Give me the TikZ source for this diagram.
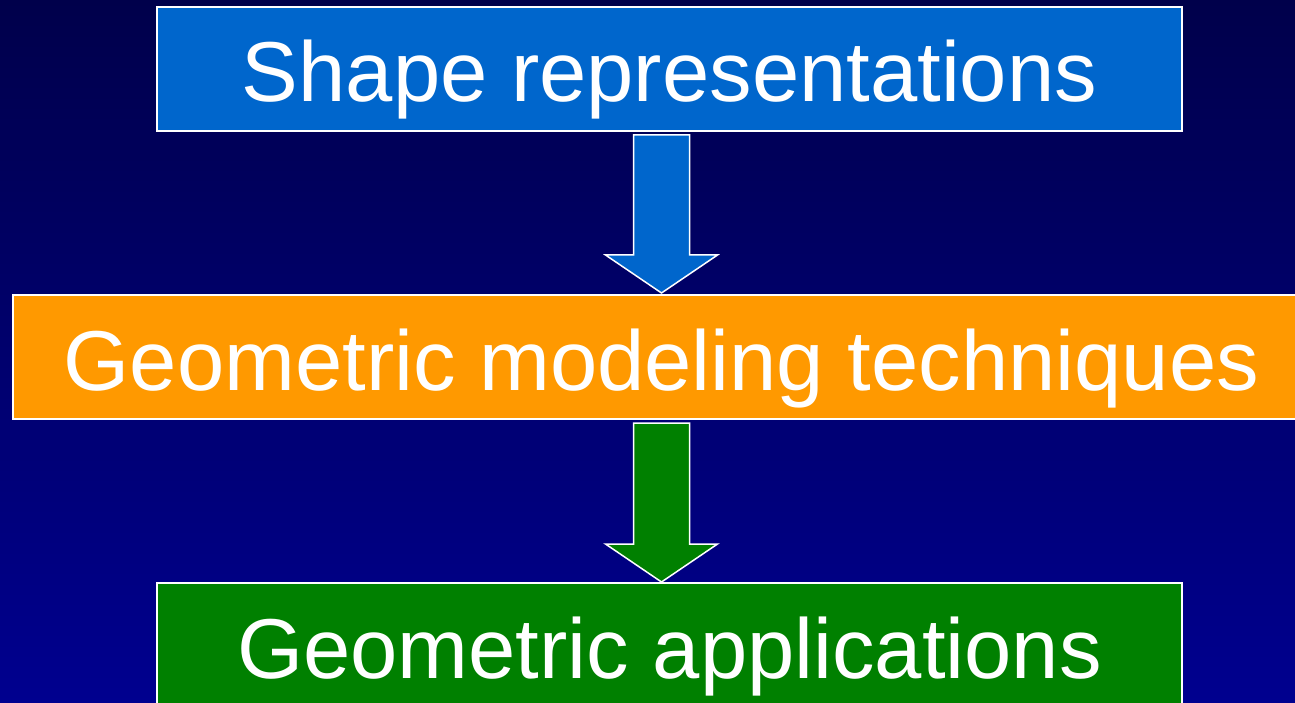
\documentclass[tikz,border=0pt]{standalone}
\usepackage{fontspec}
\setmainfont{Liberation Sans}
\usetikzlibrary{calc}
\definecolor{bgtop}{HTML}{00004B}
\definecolor{bgbottom}{HTML}{00008F}
\definecolor{repblue}{HTML}{0066CC}
\definecolor{geoorange}{HTML}{FF9900}
\definecolor{appgreen}{HTML}{008000}

% block arrow: #1 top point, #2 tip point, #3 fill colour
\newcommand{\blockarrow}[3]{%
  \filldraw[fill=#3, draw=white, line width=1.5pt, line join=miter]
    ($(#1)+(-28,0)$) -- ($(#1)+(28,0)$) -- ($(#2)+(28,-38)$) -- ($(#2)+(56,-38)$)
    -- (#2) -- ($(#2)+(-56,-38)$) -- ($(#2)+(-28,-38)$) -- cycle;}

\begin{document}
\begin{tikzpicture}[
    x=1pt, y=-1pt,
    box/.style={draw=white, line width=1.5pt, minimum height=124pt, inner sep=0pt, outer sep=0pt,
                text=white, text height=70pt, text depth=4pt, font=\fontsize{85}{100}\selectfont}
]
\useasboundingbox (0,0) rectangle (1295,703);
\clip (0,0) rectangle (1295,703);
\shade[top color=bgtop, bottom color=bgbottom] (0,0) rectangle (1295,703);

\node[box, fill=repblue, minimum width=1025pt] (rep) at (669.5,69) {Shape representations};
\node[box, fill=geoorange, minimum width=1297pt] (geo) at (661.5,357) {Geometric modeling techniques};
\node[box, fill=appgreen, minimum width=1025pt] (app) at (669.5,645) {Geometric applications};

\coordinate (a1top) at ($(geo.north |- rep.south)+(0,4)$);
\coordinate (a1tip) at ($(geo.north)+(0,-2)$);
\coordinate (a2top) at ($(geo.south)+(0,4)$);
\coordinate (a2tip) at ($(geo.south |- app.north)+(0,-1)$);

\blockarrow{a1top}{a1tip}{repblue}
\blockarrow{a2top}{a2tip}{appgreen}
\end{tikzpicture}
\end{document}
